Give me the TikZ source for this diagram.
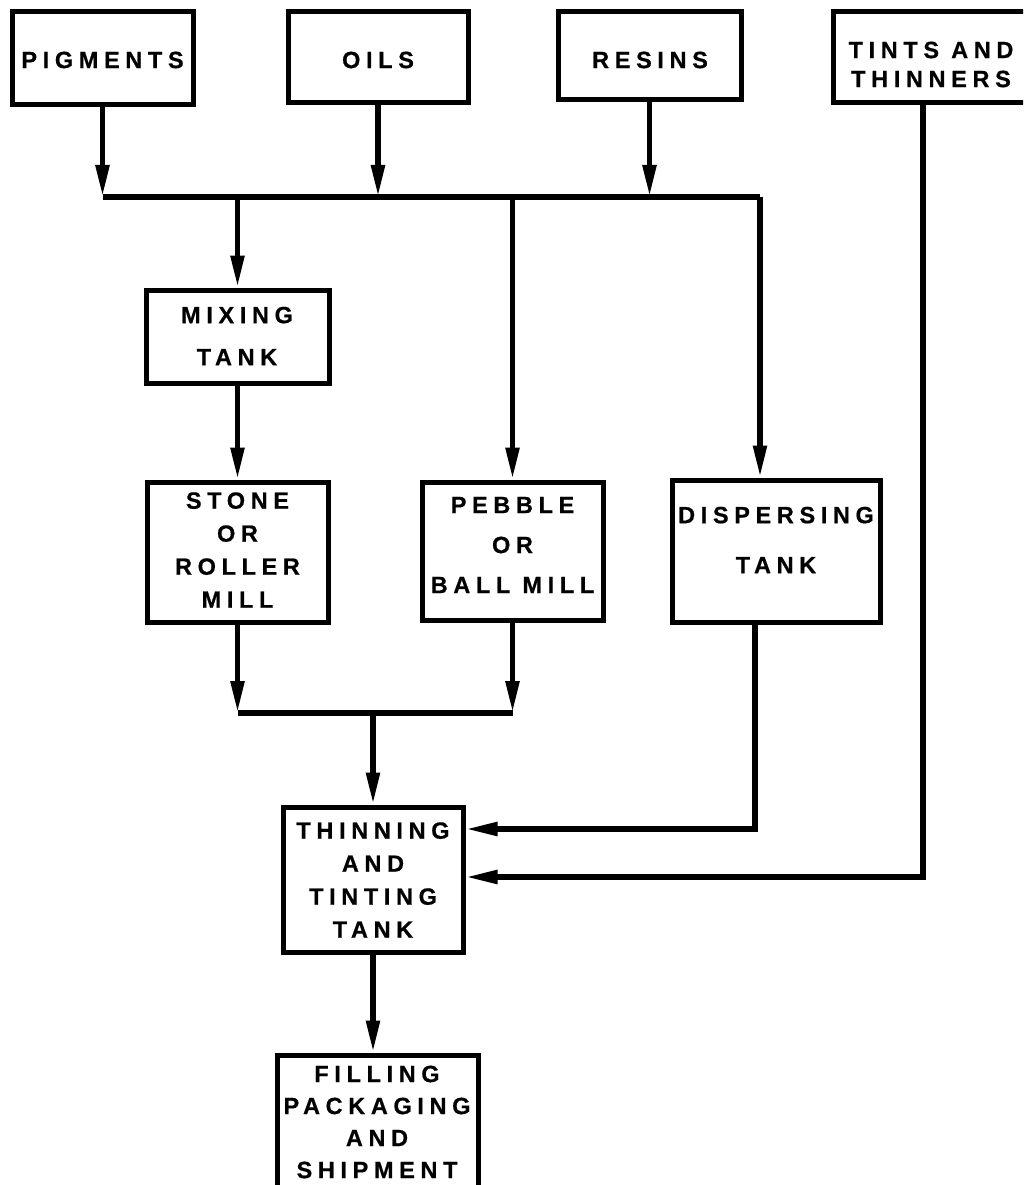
\documentclass[tikz,border=0pt]{standalone}
\usepackage{fontspec}
\newfontfamily\lsf[LetterSpace=24,FakeBold=0.6]{Liberation Sans}
\usetikzlibrary{arrows.meta}
\begin{document}
\begin{tikzpicture}[x=1pt,y=-1pt,
  box/.style={draw, line width=5pt, inner sep=0pt},
  lbl/.style={font=\lsf\bfseries\fontsize{23.5}{#1}\selectfont, align=center, inner sep=0pt},
  lbl/.default=26,
  flow/.style={line width=5.5pt, -{Triangle[length=32pt,width=13pt]}},
  wire/.style={line width=5.5pt}]
\useasboundingbox (0,0) rectangle (1023,1185);
\clip (0,0) rectangle (1023,1185);
% boxes
\node[box, minimum width=181pt, minimum height=93pt] (pig) at (102.5,58.5) {};
\node[box, minimum width=180pt, minimum height=91pt] (oil) at (378,57.5) {};
\node[box, minimum width=183pt, minimum height=88pt] (res) at (649.5,56) {};
\node[box, minimum width=197pt, minimum height=91pt] (tint) at (931.5,57.5) {};
\node[box, minimum width=183pt, minimum height=93pt] (mix) at (237.5,336.5) {};
\node[box, minimum width=181pt, minimum height=140pt] (stone) at (237.5,552) {};
\node[box, minimum width=181pt, minimum height=138pt] (peb) at (512.5,551) {};
\node[box, minimum width=208pt, minimum height=142pt] (disp) at (776,551) {};
\node[box, minimum width=180pt, minimum height=145pt] (thin) at (373,879.5) {};
\node[box, minimum width=201pt, minimum height=150pt] (fill) at (377.5,1130) {};
% labels
\node[lbl] (pigt) at (102.5,60) {PIGMENTS};
\node[lbl] (oilt) at (378,60) {OILS};
\node[lbl] (rest) at (650,60) {RESINS};
\node[lbl=29] (tintt) at (931,64.5) {TINTS AND\\THINNERS};
\node[lbl=42] (mixt) at (237,336) {MIXING\\TANK};
\node[lbl=33] (stonet) at (237.5,550) {STONE\\OR\\ROLLER\\MILL};
\node[lbl=40] (pebt) at (512.5,545) {PEBBLE\\OR\\BALL MILL};
\node[lbl=50] (dispt) at (776,540) {DISPERSING\\TANK};
\node[lbl=33] (thint) at (373,880) {THINNING\\AND\\TINTING\\TANK};
\node[lbl=32] (fillt) at (377,1122) {FILLING\\PACKAGING\\AND\\SHIPMENT};
% connectors
\coordinate (bus) at (0,197);
\coordinate (busR) at (760,197);
\coordinate (bus2) at (0,713);
\coordinate (dispout) at (755,829);
\coordinate (tintout) at (923,877);
\draw[flow] (pig.south) -- (pig.south |- bus);
\draw[flow] (oil.south) -- (oil.south |- bus);
\draw[flow] (res.south) -- (res.south |- bus);
\draw[wire] (pig.south |- bus) -- (busR);
\draw[flow] (mix.north |- bus) -- (mix.north);
\draw[flow] (peb.north |- bus) -- (peb.north);
\draw[flow] (busR) -- (busR |- disp.north);
\draw[flow] (mix.south) -- (mix.south |- stone.north);
\draw[flow] (stone.south) -- (stone.south |- bus2);
\draw[flow] (peb.south) -- (peb.south |- bus2);
\draw[wire] (stone.south |- bus2) -- (peb.south |- bus2);
\draw[flow] (thin.north |- bus2) -- (thin.north);
\draw[flow] (dispout |- disp.south) -- (dispout) -- (dispout -| thin.east);
\draw[flow] (tintout |- tint.south) -- (tintout) -- (tintout -| thin.east);
\draw[flow] (thin.south) -- (thin.south |- fill.north);
\end{tikzpicture}
\end{document}
